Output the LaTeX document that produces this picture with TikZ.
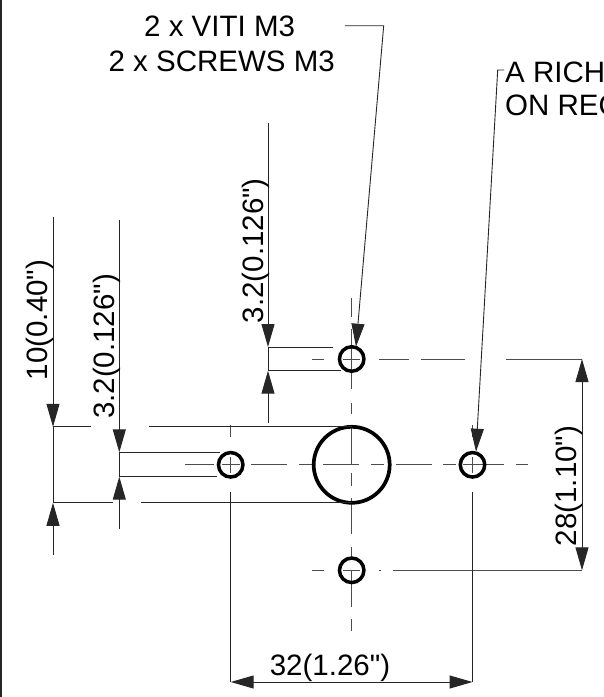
\documentclass[tikz,border=0pt]{standalone}
\usepackage{fontspec}
\newfontfamily\lblfont{Liberation Sans}
\usetikzlibrary{arrows.meta}
\tikzset{
  thinln/.style={line width=1pt,draw=black!85},
  ctr/.style={line width=1pt,draw=black!70},
  dimarrow/.style={thinln,-{Triangle[length=23pt,width=13pt]},shorten >=0pt},
  dimboth/.style={thinln,{Triangle[length=23pt,width=13pt]}-{Triangle[length=23pt,width=13pt]}},
  hole/.style={circle,draw=black,line width=3.5pt,minimum size=24.5pt,inner sep=0pt},
  bighole/.style={circle,draw=black,line width=3.7pt,minimum size=76pt,inner sep=0pt},
  lbl/.style={font=\lblfont\fontsize{29.5pt}{31pt}\selectfont,inner sep=0pt,text=black},
  vlbl/.style={lbl,rotate=90,anchor=base}
}
\begin{document}
\begin{tikzpicture}[x=1pt,y=-1pt]
\useasboundingbox (0,0) rectangle (604,697);
\draw[line width=2pt,draw=black!85] (0.8,0) -- (0.8,697);
% centre lines
\foreach \a/\b in {298/317,329/389,403/414,428/465,473/486,498/534,547/558,570/607,619/631}
  \draw[ctr] (351.7,\a) -- (351.7,\b);
\foreach \a/\b in {185/214,222/240,251/287,299/312,323/359,371/384,396/432,443/456,463/504,516/528}
  \draw[ctr] (\a,464.8) -- (\b,464.8);
\foreach \a/\b in {312/324,343/360,379/409,421/465,506/582}
  \draw[ctr] (\a,359) -- (\b,359);
\foreach \a/\b in {312/324,343/360,379/381,393/582}
  \draw[ctr] (\a,570.3) -- (\b,570.3);
\foreach \a/\b in {425/437,457/473}{
  \draw[ctr] (230.7,\a) -- (230.7,\b);
  \draw[ctr] (472.5,\a) -- (472.5,\b);}
% holes
\node[hole] (top) at (351.7,359) {};
\node[hole] (left) at (230.7,464.8) {};
\node[hole] (right) at (472.5,464.8) {};
\node[hole] (bottom) at (351.7,570.3) {};
\node[bighole] (big) at (351.7,464.8) {};
% named ends
\coordinate (a1) at (53,217);    \coordinate (a2) at (53,426.8);
\coordinate (a3) at (53,555);    \coordinate (a4) at (53,502.8);
\coordinate (b1) at (119.3,219.5); \coordinate (b2) at (119.3,452.3);
\coordinate (b3) at (119.3,529); \coordinate (b4) at (119.3,476.7);
\coordinate (c1) at (268,123);   \coordinate (c2) at (268,347);
\coordinate (c3) at (268,423);   \coordinate (c4) at (268,370.7);
\coordinate (d1) at (582,359);   \coordinate (d2) at (582,570.3);
\coordinate (e1) at (230.7,682); \coordinate (e2) at (472.5,682);
% extension lines
\draw[thinln] (a2) -- (91,426.8) (149,426.8) -- (351.7,426.8);
\draw[thinln] (a4) -- (113,502.8) (141,502.8) -- (351.7,502.8);
\draw[thinln] (b2) -- (220,452.3);
\draw[thinln] (b4) -- (217,476.7);
\draw[thinln] (c2) -- (333,347);
\draw[thinln] (c4) -- (341,370.7);
\draw[thinln] (230.7,492) -- (e1);
\draw[thinln] (472.5,492) -- (e2);
\draw[thinln] (a2) -- (a4);
\draw[thinln] (b2) -- (b4);
\draw[thinln] (c2) -- (c4);
% dimension arrows
\draw[dimarrow] (a1) -- (a2);
\draw[dimarrow] (a3) -- (a4);
\draw[dimarrow] (b1) -- (b2);
\draw[dimarrow] (b3) -- (b4);
\draw[dimarrow] (c1) -- (c2);
\draw[dimarrow] (c3) -- (c4);
\draw[dimboth] (d1) -- (d2);
\draw[dimboth] (e1) -- (e2);
% leaders
\node[lbl,anchor=base] (t1) at (219.6,36.7) {2 x VITI M3};
\node[lbl,anchor=base] (t2) at (221.7,71.7) {2 x SCREWS M3};
\node[lbl,anchor=base west] (t3) at (505,82) {A RICH};
\node[lbl,anchor=base west] (t4) at (505,115.7) {ON REQ};
\coordinate (l1) at (344.8,25.7); \coordinate (l2) at (383.7,25.7);
\coordinate (l3) at (356,346.7);
\coordinate (m1) at (504,70); \coordinate (m2) at (497.7,70);
\coordinate (m3) at (476,451.7);
\draw[dimarrow,line width=0.9pt] (l1) -- (l2) -- (l3);
\draw[dimarrow,line width=0.9pt] (m1) -- (m2) -- (m3);
% dimension labels
\node[vlbl] (v1) at (47,320) {10(0.40")};
\node[vlbl] (v2) at (114.4,346.5) {3.2(0.126")};
\node[vlbl] (v3) at (263,250.7) {3.2(0.126")};
\node[vlbl] (v4) at (576.6,486) {28(1.10")};
\node[lbl,anchor=base] (h1) at (330,675) {32(1.26")};
\end{tikzpicture}
\end{document}
